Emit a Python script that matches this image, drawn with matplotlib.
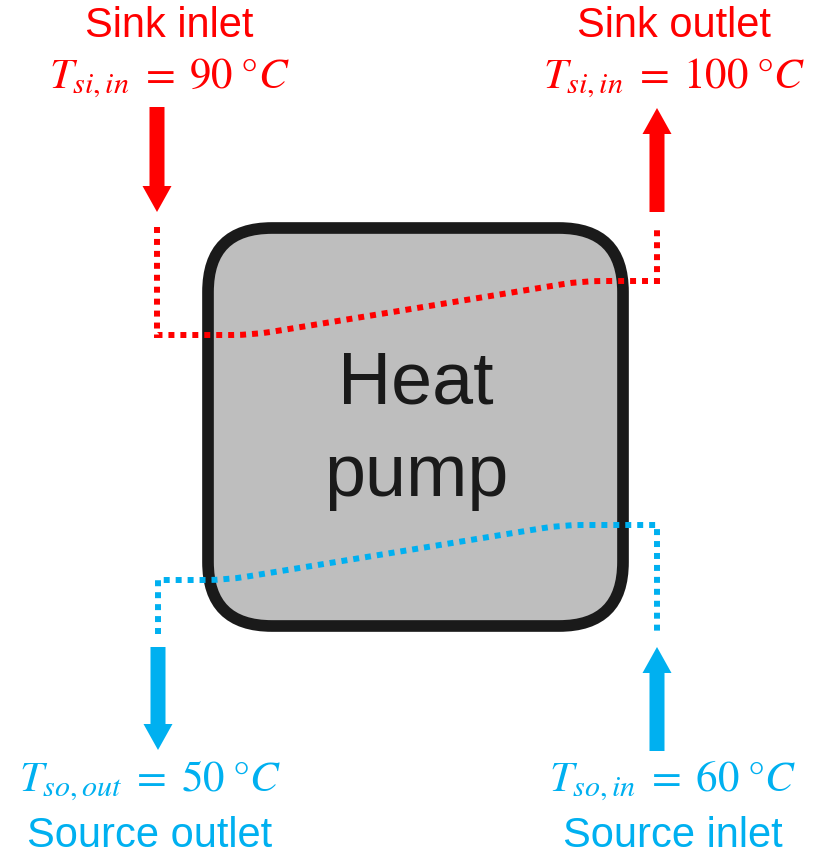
import numpy as np
import matplotlib
matplotlib.use("Agg")
import matplotlib.pyplot as plt
from matplotlib.patches import FancyBboxPatch, FancyArrow, PathPatch
from matplotlib.path import Path

plt.rcParams["font.family"] = ["Liberation Sans", "DejaVu Sans"]
plt.rcParams["mathtext.fontset"] = "stix"

RED = "#FF0000"
BLUE = "#00B0F0"
DARK = "#1A1A1A"

# ---------------- layout data (pixel coordinates, y downwards) ----------------
box_x = [208, 623]
box_y = [228, 626]
box_radius = 64

# dotted flow paths: vertical leg, flat, sloped, flat, vertical leg
sink_x = [157, 157, 252, 582, 657, 657]
sink_y = [227, 335, 335, 281, 281, 227]
source_x = [158, 158, 226, 562, 657, 657]
source_y = [634, 580, 580, 525, 525, 634]

# arrows: (x, y_start, y_end)
arrow_x = [157, 657, 158, 657]
arrow_y0 = [107, 212, 647, 751]
arrow_y1 = [212, 108, 750, 647]
arrow_color = [RED, RED, BLUE, BLUE]

# labels
label_names = ["Sink inlet", "Sink outlet", "Source outlet", "Source inlet"]
label_temps = [r"$T_{si,in}\;=\;90\;°C$", r"$T_{si,in}\;=\;100\;°C$",
               r"$T_{so,out}\;=\;50\;°C$", r"$T_{so,in}\;=\;60\;°C$"]
label_x = [169, 674, 150, 673]
name_y = [26, 26, 836, 836]
temp_y = [78, 78, 781, 781]
label_color = [RED, RED, BLUE, BLUE]


def rounded_path(xs, ys, r=20):
    """Polyline with the two middle corners softened by quadratic curves."""
    pts = np.column_stack([xs, ys]).astype(float)
    verts = [pts[0], pts[1]]
    codes = [Path.MOVETO, Path.LINETO]
    for i in (2, 3):
        p = pts[i]
        d_in = (p - pts[i - 1]) / np.linalg.norm(p - pts[i - 1])
        d_out = (pts[i + 1] - p) / np.linalg.norm(pts[i + 1] - p)
        verts += [p - r * d_in, p, p + r * d_out]
        codes += [Path.LINETO, Path.CURVE3, Path.CURVE3]
    verts += [pts[4], pts[5]]
    codes += [Path.LINETO, Path.LINETO]
    return Path(verts, codes)


fig = plt.figure(figsize=(8.16, 8.55), dpi=100)
ax = fig.add_axes([0, 0, 1, 1])
ax.set_xlim(0, 816)
ax.set_ylim(855, 0)
ax.axis("off")

# heat pump box
box = FancyBboxPatch((box_x[0], box_y[0]), box_x[1] - box_x[0], box_y[1] - box_y[0],
                     boxstyle=f"round,pad=0,rounding_size={box_radius}",
                     facecolor="#BEBEBE", edgecolor=DARK, linewidth=8.4, zorder=1)
ax.add_patch(box)
ax.text(416, 384, "Heat", fontsize=53, color=DARK, ha="center", va="center", zorder=3)
ax.text(416, 476, "pump", fontsize=53, color=DARK, ha="center", va="center", zorder=3)

# dotted flow lines
for xs, ys, c in [(sink_x, sink_y, RED), (source_x, source_y, BLUE)]:
    pp = PathPatch(rounded_path(xs, ys), facecolor="none", edgecolor=c,
                   linewidth=4.3, zorder=2)
    pp.set_linestyle((0, (1, 1)))
    pp.set_capstyle("butt")
    ax.add_patch(pp)

# arrows
for x, y0, y1, c in zip(arrow_x, arrow_y0, arrow_y1, arrow_color):
    ax.add_patch(FancyArrow(x, y0, 0, y1 - y0, width=15, head_width=29,
                            head_length=26, length_includes_head=True,
                            color=c, linewidth=0, zorder=2))

# labels
for name, temp, x, ny, ty, c in zip(label_names, label_temps, label_x,
                                    name_y, temp_y, label_color):
    ax.text(x, ny, name, fontsize=30, color=c, ha="center", va="center")
    ax.text(x, ty, temp, fontsize=31, color=c, ha="center", va="center")

fig.savefig("out.png", dpi=100)
